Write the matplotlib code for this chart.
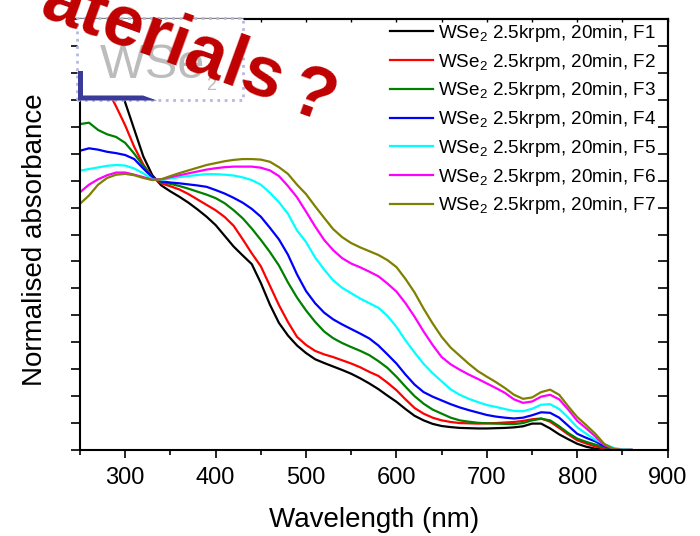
import matplotlib
matplotlib.use("Agg")
import matplotlib.pyplot as plt
from matplotlib.patches import Rectangle, Polygon
from matplotlib.ticker import MultipleLocator, NullFormatter

plt.rcParams['font.family'] = ['Liberation Sans', 'DejaVu Sans']
plt.rcParams['mathtext.fontset'] = 'custom'
plt.rcParams['mathtext.rm'] = 'Liberation Sans'
plt.rcParams['mathtext.it'] = 'Liberation Sans:italic'
plt.rcParams['mathtext.bf'] = 'Liberation Sans:bold'

# ---------------- data ----------------
wavelength = [250, 260, 270, 280, 290, 300, 310, 320, 330, 340,
              350, 360, 370, 380, 390, 400, 410, 420, 430, 440,
              450, 460, 470, 480, 490, 500, 510, 520, 530, 540,
              550, 560, 570, 580, 590, 600, 610, 620, 630, 640,
              650, 660, 670, 680, 690, 700, 710, 720, 730, 740,
              750, 760, 770, 780, 790, 800, 810, 820, 830, 840,
              850, 860]

f1 = [18.0, 17.1, 16.2, 15.0, 14.0, 12.9, 11.9, 10.9, 10.2, 9.82,
      9.6, 9.4, 9.18, 8.93, 8.66, 8.35, 7.95, 7.55, 7.22, 6.9,
      6.2, 5.4, 4.72, 4.25, 3.88, 3.6, 3.37, 3.23, 3.1, 2.97,
      2.83, 2.66, 2.47, 2.26, 2.02, 1.79, 1.52, 1.27, 1.1, 0.97,
      0.89, 0.85, 0.82, 0.81, 0.8, 0.8, 0.81, 0.82, 0.84, 0.88,
      0.98, 0.98, 0.8, 0.58, 0.4, 0.23, 0.12, 0.05, 0.01, 0.0,
      0.0, 0.0]
f2 = [15.2, 14.6, 14.0, 13.4, 12.75, 12.05, 11.25, 10.6, 10.12, 9.9,
      9.79, 9.67, 9.5, 9.3, 9.1, 8.9, 8.65, 8.32, 7.82, 7.3,
      6.82, 6.1, 5.38, 4.75, 4.2, 3.9, 3.68, 3.55, 3.45, 3.33,
      3.21, 3.07, 2.9, 2.75, 2.5, 2.22, 1.88, 1.56, 1.35, 1.2,
      1.1, 1.04, 1.0, 0.99, 0.98, 0.99, 1.0, 1.02, 1.04, 1.08,
      1.14, 1.17, 1.05, 0.82, 0.58, 0.36, 0.24, 0.13, 0.06, 0.02,
      0.0, 0.0]
f3 = [12.1, 12.15, 11.88, 11.72, 11.62, 11.4, 11.0, 10.55, 10.12, 9.95,
      9.88, 9.8, 9.7, 9.59, 9.48, 9.35, 9.16, 8.9, 8.6, 8.22,
      7.8, 7.35, 6.85, 6.22, 5.66, 5.18, 4.76, 4.4, 4.15, 3.97,
      3.82, 3.68, 3.52, 3.3, 3.05, 2.72, 2.35, 2.0, 1.72, 1.5,
      1.35, 1.2, 1.1, 1.05, 1.01, 0.99, 0.98, 0.97, 0.96, 1.0,
      1.1, 1.16, 1.1, 0.88, 0.63, 0.42, 0.3, 0.2, 0.1, 0.03,
      0.0, 0.0]
f4 = [11.11, 11.2, 11.15, 11.07, 11.02, 10.95, 10.8, 10.45, 10.12, 9.97,
      9.93, 9.9, 9.86, 9.82, 9.77, 9.65, 9.52, 9.36, 9.18, 8.95,
      8.66, 8.25, 7.82, 7.25, 6.52, 5.9, 5.45, 5.1, 4.85, 4.66,
      4.49, 4.32, 4.14, 3.88, 3.55, 3.21, 2.8, 2.43, 2.15, 1.98,
      1.84, 1.7, 1.58, 1.48, 1.39, 1.3, 1.24, 1.2, 1.17, 1.2,
      1.29, 1.4, 1.38, 1.2, 0.9, 0.6, 0.45, 0.32, 0.14, 0.05,
      0.0, 0.0]
f5 = [10.37, 10.43, 10.49, 10.55, 10.58, 10.56, 10.45, 10.27, 10.05, 10.02,
      10.08, 10.13, 10.17, 10.21, 10.24, 10.24, 10.22, 10.19, 10.12, 10.02,
      9.85, 9.55, 9.2, 8.77, 8.15, 7.72, 7.15, 6.7, 6.3, 6.02,
      5.82, 5.62, 5.45, 5.28, 4.98, 4.57, 4.07, 3.62, 3.2, 2.85,
      2.55, 2.25, 2.05, 1.9, 1.78, 1.67, 1.6, 1.52, 1.45, 1.44,
      1.53, 1.68, 1.7, 1.52, 1.2, 0.84, 0.6, 0.38, 0.22, 0.08,
      0.02, 0.0]
f6 = [9.57, 9.85, 10.05, 10.2, 10.3, 10.3, 10.22, 10.13, 10.03, 10.05,
      10.13, 10.2, 10.27, 10.34, 10.41, 10.46, 10.5, 10.52, 10.52, 10.52,
      10.48, 10.38, 10.17, 9.8, 9.38, 8.85, 8.3, 7.8, 7.42, 7.12,
      6.92, 6.78, 6.62, 6.45, 6.18, 5.88, 5.45, 4.95, 4.4, 3.9,
      3.45, 3.18, 2.98, 2.8, 2.64, 2.47, 2.3, 2.12, 1.88, 1.75,
      1.8, 1.98, 2.05, 1.88, 1.5, 1.08, 0.8, 0.5, 0.18, 0.04,
      0.0, 0.0]
f7 = [9.14, 9.45, 9.85, 10.1, 10.22, 10.25, 10.2, 10.1, 10.02, 10.05,
      10.17, 10.28, 10.38, 10.48, 10.58, 10.65, 10.72, 10.77, 10.8, 10.8,
      10.78, 10.7, 10.5, 10.25, 9.85, 9.5, 9.05, 8.62, 8.2, 7.9,
      7.68, 7.52, 7.38, 7.24, 7.05, 6.79, 6.35, 5.85, 5.25, 4.7,
      4.2, 3.8, 3.5, 3.2, 2.93, 2.72, 2.52, 2.3, 2.05, 1.9,
      1.95, 2.15, 2.24, 2.05, 1.62, 1.22, 0.92, 0.6, 0.22, 0.04,
      0.0, 0.0]

series = [f1, f2, f3, f4, f5, f6, f7]
labels = [r'WSe$_2$ 2.5krpm, 20min, F1', r'WSe$_2$ 2.5krpm, 20min, F2',
          r'WSe$_2$ 2.5krpm, 20min, F3', r'WSe$_2$ 2.5krpm, 20min, F4',
          r'WSe$_2$ 2.5krpm, 20min, F5', r'WSe$_2$ 2.5krpm, 20min, F6',
          r'WSe$_2$ 2.5krpm, 20min, F7']
colors = ['#000000', '#ff0000', '#008000', '#0000ff', '#00ffff', '#ff00ff', '#808000']

xticks = [300, 400, 500, 600, 700, 800, 900]

# ---------------- figure ----------------
W, H = 700, 536
fig = plt.figure(figsize=(7.0, 5.36), dpi=100)
ax = fig.add_axes([80 / W, (H - 450) / H, (667.7 - 80) / W, 431 / H])

for y, c, lab in zip(series, colors, labels):
    ax.plot(wavelength, y, color=c, lw=1.6, label=lab)

ax.set_xlim(250, 900)
ax.set_ylim(0, 16)
ax.set_xticks(xticks)
ax.xaxis.set_minor_locator(MultipleLocator(50))
ax.yaxis.set_major_locator(MultipleLocator(1))
ax.yaxis.set_major_formatter(NullFormatter())
ax.tick_params(axis='x', which='major', direction='out', length=6, width=1.2,
               labelsize=17, pad=6)
ax.tick_params(axis='x', which='minor', direction='out', length=3.5, width=1.2)
ax.tick_params(axis='y', which='major', direction='out', length=6.5, width=1.2)
for s in ax.spines.values():
    s.set_linewidth(1.5)

secx = ax.secondary_xaxis('top')
secx.set_xticks(xticks)
secx.xaxis.set_minor_locator(MultipleLocator(50))
secx.tick_params(which='both', direction='in', length=2.5, width=1.0, labeltop=False)
secx.spines['top'].set_linewidth(1.5)
secy = ax.secondary_yaxis('right')
secy.yaxis.set_major_locator(MultipleLocator(1))
secy.tick_params(which='both', direction='in', length=7, width=1.2, labelright=False)
secy.spines['right'].set_linewidth(1.5)

ax.set_xlabel('Wavelength (nm)', fontsize=20, labelpad=13)
ax.set_ylabel('Normalised absorbance', fontsize=20)
ax.yaxis.set_label_coords(-0.0545, 0.487)

leg = ax.legend(loc='upper left', bbox_to_anchor=(390 / W, 1 - 23 / H),
                bbox_transform=fig.transFigure, frameon=False, fontsize=13.6,
                handlelength=2.3, handletextpad=0.25, labelspacing=0.41,
                borderpad=0, borderaxespad=0)

# ---------------- slide overlay ----------------
def fx(x):
    return x / W

def fy(y):
    return 1 - y / H

box = Rectangle((fx(77), fy(100)), (243 - 77) / W, (100 - 18) / H,
                transform=fig.transFigure, facecolor='white',
                edgecolor='#b8b8e0', lw=2, linestyle=':', zorder=5)
fig.add_artist(box)
fig.text(fx(100), fy(78), 'WSe', fontsize=35, color='#bcbcbc', zorder=6)
fig.text(fx(206), fy(90), '2', fontsize=13, color='#bcbcbc', zorder=6)
bracket = Polygon([(fx(78), fy(71)), (fx(83), fy(71)), (fx(83), fy(95.5)),
                   (fx(143), fy(95.5)), (fx(157), fy(100.5)), (fx(78), fy(100.5))],
                  closed=True, transform=fig.transFigure, facecolor='#3a3a98',
                  edgecolor='none', zorder=7)
fig.add_artist(bracket)
fig.text(fx(38), fy(16), 'aterials', fontsize=52, fontweight='bold',
         color='#c00000', rotation=-20, rotation_mode='anchor',
         ha='left', va='baseline', zorder=10)
fig.text(fx(285), fy(109), '?', fontsize=52, fontweight='bold',
         color='#c00000', rotation=-20, rotation_mode='anchor',
         ha='left', va='baseline', zorder=10)

fig.savefig('out.png', dpi=100)
